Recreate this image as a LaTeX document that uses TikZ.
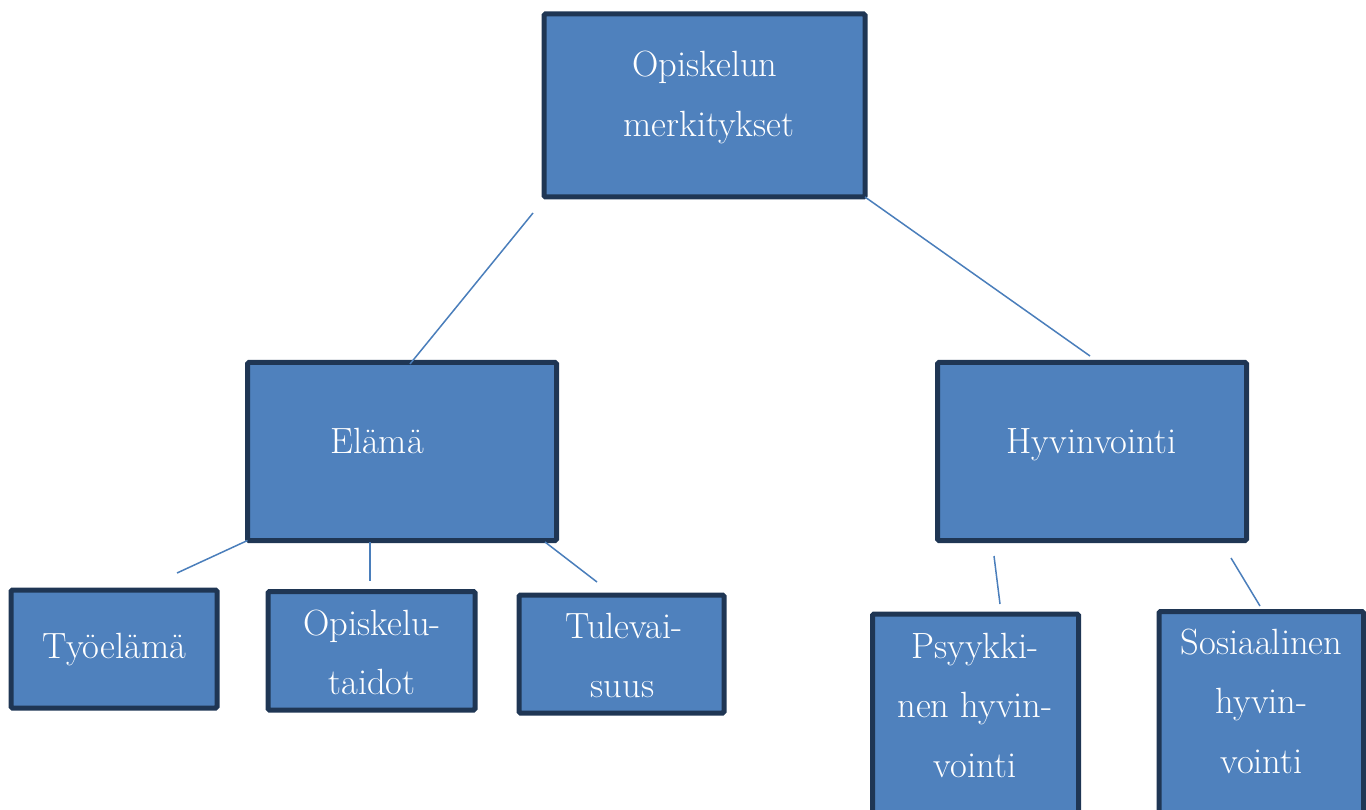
\documentclass[tikz,border=0pt]{standalone}
\usepackage{fontspec}
\definecolor{boxfill}{HTML}{4F81BD}
\definecolor{boxedge}{HTML}{1F3654}
\definecolor{linkcol}{HTML}{4A7EBB}
\begin{document}
\begin{tikzpicture}[x=1pt,y=-1pt,
  box/.style={draw=boxedge,fill=boxfill,line width=5pt,rounded corners=1.5pt,inner sep=0pt,outer sep=0pt},
  lbl/.style={text=white,anchor=base,inner sep=0pt,font=\fontsize{36.5}{44}\selectfont},
  link/.style={draw=linkcol,line width=1.5pt}]
\useasboundingbox (0,0) rectangle (1366,810);
% boxes
\node[box,minimum width=321pt,minimum height=183pt] (top) at (704.5,105.5) {};
\node[box,minimum width=309pt,minimum height=178pt] (elama) at (402,451.5) {};
\node[box,minimum width=309pt,minimum height=178pt] (hyv) at (1092,451.5) {};
\node[box,minimum width=206pt,minimum height=118pt] (tyo) at (114,649) {};
\node[box,minimum width=207pt,minimum height=118.5pt] (opi) at (371.5,650.75) {};
\node[box,minimum width=205pt,minimum height=118pt] (tul) at (621.5,654) {};
\node[box,minimum width=206pt,minimum height=206pt] (psy) at (975.5,717) {};
\node[box,minimum width=204.5pt,minimum height=208pt] (sos) at (1261.25,715.5) {};
% texts
\node[lbl] (t1a) at (705,77) {Opiskelun};
\node[lbl] (t1b) at (709,137) {merkitykset};
\node[lbl] (t2) at (377,453) {Elämä};
\node[lbl] (t3) at (1091.5,453) {Hyvinvointi};
\node[lbl] (t4) at (114.5,658) {Työelämä};
\node[lbl] (t5a) at (372,635) {Opiskelu-};
\node[lbl] (t5b) at (372,694) {taidot};
\node[lbl] (t6a) at (624,638) {Tulevai-};
\node[lbl] (t6b) at (622.5,697) {suus};
\node[lbl] (t7a) at (975,658) {Psyykki-};
\node[lbl] (t7b) at (975,717) {nen hyvin-};
\node[lbl] (t7c) at (975,777) {vointi};
\node[lbl] (t8a) at (1261.5,654) {Sosiaalinen};
\node[lbl] (t8b) at (1261.5,713) {hyvin-};
\node[lbl] (t8c) at (1261.5,773) {vointi};
% connector ends
\coordinate (c1a) at (533,213);
\coordinate (c1b) at (410,364);
\coordinate (c2b) at (1090,356);
\coordinate (c3b) at (177,573);
\coordinate (c4a) at (370,542);
\coordinate (c4b) at (370,581);
\coordinate (c5a) at (545,542);
\coordinate (c5b) at (597,582);
\coordinate (c6a) at (994,556);
\coordinate (c6b) at (1000,604);
\coordinate (c7a) at (1231,558);
\coordinate (c7b) at (1260,606);
% connectors
\draw[link] (c1a) -- (c1b);
\draw[link] (top.south east) -- (c2b);
\draw[link] (elama.south west) -- (c3b);
\draw[link] (c4a) -- (c4b);
\draw[link] (c5a) -- (c5b);
\draw[link] (c6a) -- (c6b);
\draw[link] (c7a) -- (c7b);
\end{tikzpicture}
\end{document}
